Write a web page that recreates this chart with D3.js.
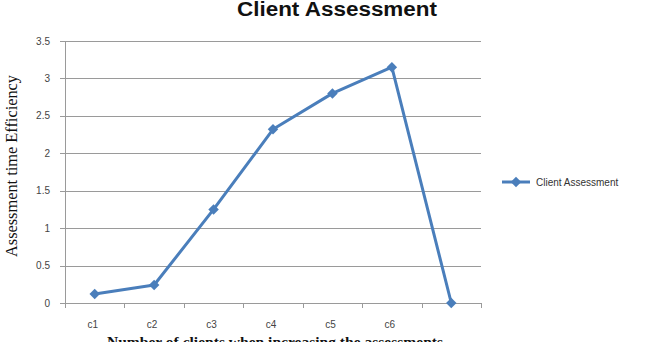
<!DOCTYPE html>
<html>
<head>
<meta charset="utf-8">
<script src="https://cdn.jsdelivr.net/npm/d3@7"></script>
<style>
  body { margin: 0; background: #fff; }
  svg { display: block; }
</style>
</head>
<body>
<script>
// chart data
var categories = ["c1", "c2", "c3", "c4", "c5", "c6", ""];
var values = [0.12, 0.24, 1.25, 2.32, 2.8, 3.15, 0];
var yTicks = [0, 0.5, 1, 1.5, 2, 2.5, 3, 3.5];
var seriesName = "Client Assessment";

var w = 651, h = 342;
var plotLeft = 65, plotRight = 481, plotTop = 41, plotBottom = 303;

var svg = d3.select("body").append("svg")
  .attr("width", w)
  .attr("height", h);

var x = d3.scaleBand().domain(d3.range(categories.length)).range([plotLeft, plotRight]);
var y = d3.scaleLinear().domain([0, 3.5]).range([plotBottom, plotTop]);

// gridlines
svg.append("g")
  .selectAll("line")
  .data(yTicks)
  .enter()
  .append("line")
  .attr("x1", plotLeft - 5)
  .attr("x2", plotRight)
  .attr("y1", function(d) { return Math.round(y(d)) + 0.5; })
  .attr("y2", function(d) { return Math.round(y(d)) + 0.5; })
  .attr("stroke", "#9a9a9a")
  .attr("stroke-width", 1);

// y axis line
svg.append("line")
  .attr("x1", plotLeft + 0.5).attr("x2", plotLeft + 0.5)
  .attr("y1", plotTop).attr("y2", plotBottom + 1)
  .attr("stroke", "#9a9a9a");

// x tick marks
svg.append("g")
  .selectAll("line")
  .data(d3.range(categories.length + 1))
  .enter()
  .append("line")
  .attr("x1", function(i) { return Math.round(plotLeft + i * x.bandwidth()) + 0.5; })
  .attr("x2", function(i) { return Math.round(plotLeft + i * x.bandwidth()) + 0.5; })
  .attr("y1", plotBottom)
  .attr("y2", plotBottom + 5)
  .attr("stroke", "#9a9a9a");

// y tick labels
svg.append("g")
  .selectAll("text")
  .data(yTicks)
  .enter()
  .append("text")
  .attr("x", plotLeft - 15)
  .attr("y", function(d) { return y(d) + 3.5; })
  .attr("text-anchor", "end")
  .attr("font-family", "Liberation Sans, sans-serif")
  .attr("font-size", 10)
  .attr("fill", "#444")
  .text(function(d) { return d; });

// x tick labels
svg.append("g")
  .selectAll("text")
  .data(categories)
  .enter()
  .append("text")
  .attr("x", function(d, i) { return x(i) + x.bandwidth() / 2 - 2; })
  .attr("y", 328)
  .attr("text-anchor", "middle")
  .attr("font-family", "Liberation Sans, sans-serif")
  .attr("font-size", 10)
  .attr("fill", "#444")
  .text(function(d) { return d; });

// series line
var line = d3.line()
  .x(function(d, i) { return x(i) + x.bandwidth() / 2; })
  .y(function(d) { return y(d); });

svg.append("path")
  .datum(values)
  .attr("d", line)
  .attr("fill", "none")
  .attr("stroke", "#4a7ebb")
  .attr("stroke-width", 3)
  .attr("stroke-linejoin", "round");

var diamond = d3.symbol().type(d3.symbolDiamond2).size(70);

svg.append("g")
  .selectAll("path")
  .data(values)
  .enter()
  .append("path")
  .attr("d", diamond)
  .attr("transform", function(d, i) {
    return "translate(" + (x(i) + x.bandwidth() / 2) + "," + y(d) + ")";
  })
  .attr("fill", "#4a7ebb");

// title
svg.append("text")
  .attr("x", 337)
  .attr("y", 16)
  .attr("text-anchor", "middle")
  .attr("font-family", "Liberation Sans, sans-serif")
  .attr("font-weight", "bold")
  .attr("font-size", 20)
  .attr("textLength", 200)
  .attr("lengthAdjust", "spacingAndGlyphs")
  .attr("fill", "#111")
  .text(seriesName);

// y axis title
svg.append("text")
  .attr("transform", "translate(17,166) rotate(-90)")
  .attr("text-anchor", "middle")
  .attr("font-family", "Liberation Serif, serif")
  .attr("font-size", 16)
  .attr("textLength", 182)
  .attr("lengthAdjust", "spacingAndGlyphs")
  .attr("fill", "#111")
  .text("Assessment time Efficiency");

// x axis title
svg.append("text")
  .attr("x", 275)
  .attr("y", 347)
  .attr("text-anchor", "middle")
  .attr("font-family", "Liberation Serif, serif")
  .attr("font-weight", "bold")
  .attr("font-size", 15)
  .attr("textLength", 336)
  .attr("lengthAdjust", "spacingAndGlyphs")
  .attr("fill", "#111")
  .text("Number of clients when increasing the assessments");

// legend
var lg = svg.append("g").attr("transform", "translate(502,182)");
lg.append("line")
  .attr("x1", 0).attr("x2", 28)
  .attr("stroke", "#4a7ebb")
  .attr("stroke-width", 3);
lg.append("path")
  .attr("d", diamond)
  .attr("transform", "translate(14,0)")
  .attr("fill", "#4a7ebb");
lg.append("text")
  .attr("x", 34)
  .attr("y", 4)
  .attr("font-family", "Liberation Sans, sans-serif")
  .attr("font-size", 10)
  .attr("fill", "#333")
  .text(seriesName);
</script>
</body>
</html>
